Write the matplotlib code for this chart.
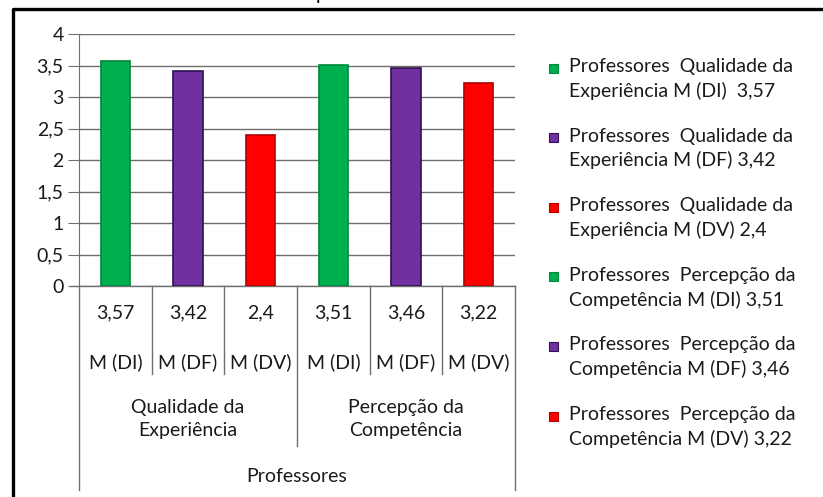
import matplotlib.pyplot as plt
from matplotlib.lines import Line2D
from matplotlib.patches import Rectangle

plt.rcParams['font.family'] = ['Lato', 'DejaVu Sans']

# dados
medidas = ['M (DI)', 'M (DF)', 'M (DV)', 'M (DI)', 'M (DF)', 'M (DV)']
valores = [3.57, 3.42, 2.4, 3.51, 3.46, 3.22]
valores_txt = ['3,57', '3,42', '2,4', '3,51', '3,46', '3,22']
grupos = ['Qualidade da\nExperiência', 'Percepção da\nCompetência']
nivel_topo = 'Professores'
ticks_y = [0, 0.5, 1, 1.5, 2, 2.5, 3, 3.5, 4]
ticks_y_txt = ['0', '0,5', '1', '1,5', '2', '2,5', '3', '3,5', '4']
legenda = ['Professores  Qualidade da\nExperiência M (DI)  3,57',
           'Professores  Qualidade da\nExperiência M (DF) 3,42',
           'Professores  Qualidade da\nExperiência M (DV) 2,4',
           'Professores  Percepção da\nCompetência M (DI) 3,51',
           'Professores  Percepção da\nCompetência M (DF) 3,46',
           'Professores  Percepção da\nCompetência M (DV) 3,22']

cores = ['#00B050', '#7030A0', '#FF0000', '#00B050', '#7030A0', '#FF0000']
bordas = ['#00863C', '#2E1150', '#B00000', '#00863C', '#2E1150', '#B00000']

W, H = 823, 497
fig = plt.figure(figsize=(W / 100, H / 100), dpi=100)
fs = 14
txtcor = '#1a1a1a'

# eixo em pixels
x0, x1, ytop, ybot = 79, 515, 34, 286
ax = fig.add_axes([x0 / W, 1 - ybot / H, (x1 - x0) / W, (ybot - ytop) / H])
n = len(valores)
ax.bar([i + 0.5 for i in range(n)], valores, width=0.4, color=cores,
       edgecolor=bordas, linewidth=1.2, zorder=3)
ax.set_xlim(0, n)
ax.set_ylim(0, 4)
ax.set_yticks(ticks_y)
ax.set_yticklabels(ticks_y_txt, fontsize=fs)
ax.set_xticks([])
for s in ['top', 'right', 'bottom']:
    ax.spines[s].set_visible(False)
gray = '#6f6f6f'
ax.spines['left'].set_color(gray)
ax.tick_params(axis='y', length=8, color=gray, pad=3, labelcolor=txtcor)
ax.yaxis.grid(True, color=gray, linewidth=1)
ax.set_axisbelow(True)

def yax(p):
    return (ybot - p) / (ybot - ytop)

tr = ax.get_xaxis_transform()
# linha do zero estendida
ax.add_line(Line2D([-8 / 72.7, n], [0, 0], transform=tr, color=gray, lw=1, clip_on=False))
# linhas verticais da tabela
for i in range(n + 1):
    if i in (0, n):
        fim = 490
    elif i == 3:
        fim = 446
    else:
        fim = 374
    ax.add_line(Line2D([i, i], [0, yax(fim)], transform=tr, color=gray, lw=1, clip_on=False))

for i in range(n):
    ax.text(i + 0.5, yax(313), valores_txt[i], transform=tr, ha='center', va='center',
            fontsize=fs, color=txtcor)
    ax.text(i + 0.5, yax(362), medidas[i], transform=tr, ha='center', va='center',
            fontsize=fs, color=txtcor)
for g, nome in enumerate(grupos):
    ax.text(g * 3 + 1.5, yax(419), nome, transform=tr, ha='center', va='center',
            fontsize=fs, color=txtcor, linespacing=1.45)
ax.text(n / 2, yax(477), nivel_topo, transform=tr, ha='center', va='center',
        fontsize=fs, color=txtcor)

# legenda
for k, txt in enumerate(legenda):
    yl = 68 + k * 69.6
    fig.patches.append(Rectangle(((553 - 4.5) / W, 1 - (yl + 4.5) / H), 9 / W, 9 / H,
                                 transform=fig.transFigure, facecolor=cores[k],
                                 edgecolor=bordas[k], lw=0.8))
    fig.text(569 / W, 1 - (yl - 10) / H, txt, ha='left', va='top', fontsize=fs,
             color=txtcor, linespacing=1.45)

# moldura
fig.add_artist(Line2D([13 / W, 13 / W, 1], [0, 1 - 9 / H, 1 - 9 / H],
                      transform=fig.transFigure, color='black', lw=2.4))

# título cortado no topo
fig.text(366 / W, 1, 'professores', ha='center', va='baseline', fontsize=fs)

fig.savefig('out.png', dpi=100)
